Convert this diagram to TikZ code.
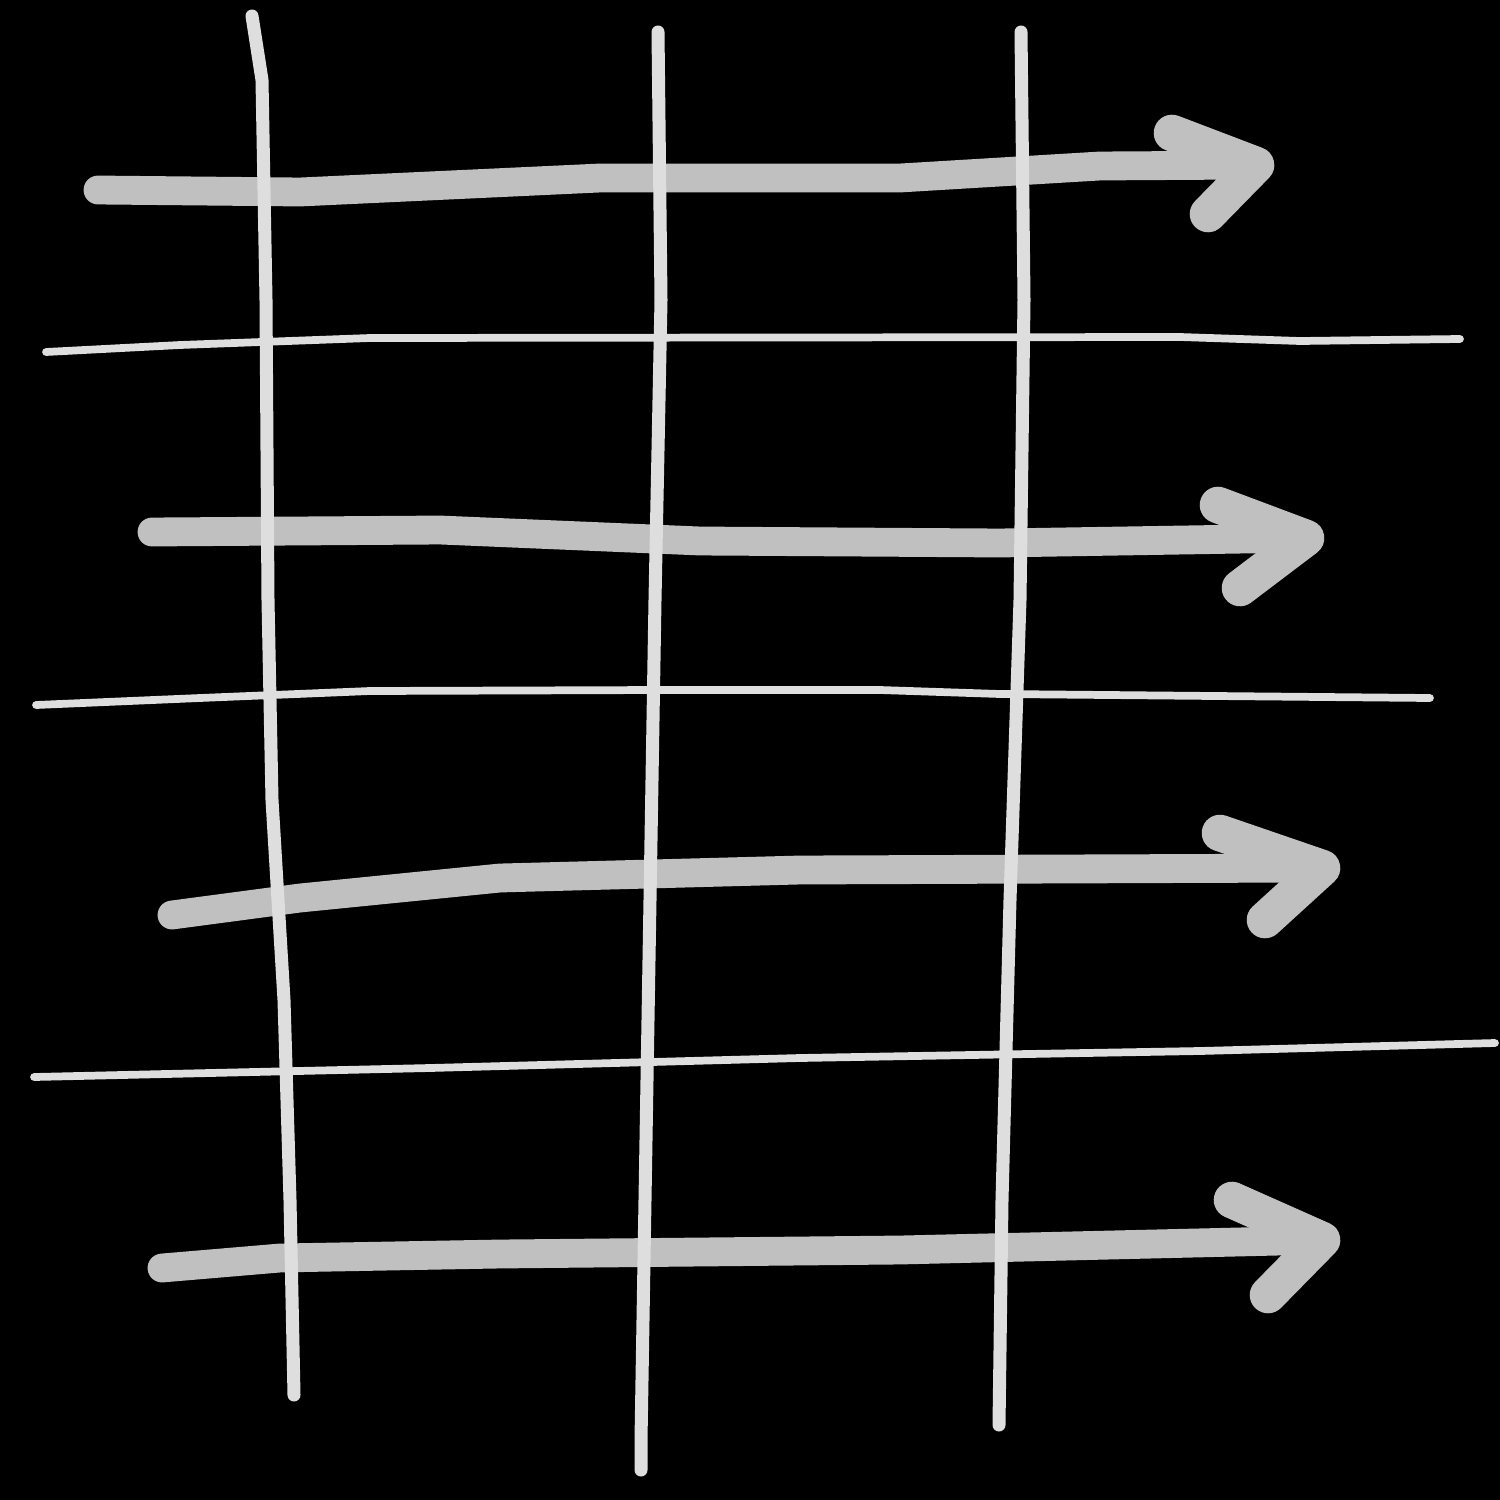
\documentclass[tikz,border=0pt]{standalone}
\usetikzlibrary{positioning}
\definecolor{chalk}{HTML}{DEDEDE}
\definecolor{shade}{HTML}{C0C0C0}
\tikzset{
  rail/.style={draw=chalk, line width=3.7pt, line cap=round, line join=round},
  rung/.style={draw=chalk, line width=2.2pt, line cap=round, line join=round},
  sweep/.style={draw=shade, line width=8.2pt, line cap=round, line join=round},
  barb/.style={draw=shade, line width=10.4pt, line cap=round, line join=round}
}
\begin{document}
\begin{tikzpicture}[x=0.01cm, y=-0.01cm]
\fill[black] (0, 0) rectangle (1500, 1500);

% arrows
\coordinate (a1s) at (98, 190);   \coordinate (a1t) at (1256, 165);
\coordinate (a2s) at (152, 532);  \coordinate (a2t) at (1306, 538);
\coordinate (a3s) at (172, 915);  \coordinate (a3t) at (1322, 868);
\coordinate (a4s) at (162, 1268); \coordinate (a4t) at (1322, 1240);

\draw[sweep] (a1s) -- (300, 192) -- (600, 178) -- (900, 178) -- (1100, 166) -- (a1t);
\draw[barb] (1172, 133) -- (a1t) -- (1208, 214);
\draw[sweep] (a2s) -- (440, 530) -- (700, 541) -- (1000, 543) -- (a2t);
\draw[barb] (1218, 505) -- (a2t) -- (1240, 588);
\draw[sweep] (a3s) -- (300, 898) -- (500, 878) -- (800, 870) -- (a3t);
\draw[barb] (1220, 833) -- (a3t) -- (1265, 920);
\draw[sweep] (a4s) -- (280, 1258) -- (500, 1254) -- (900, 1250) -- (a4t);
\draw[barb] (1232, 1200) -- (a4t) -- (1268, 1295);

% horizontal lines
\coordinate (h1w) at (46, 352);  \coordinate (h1e) at (1460, 339);
\coordinate (h2w) at (36, 705);  \coordinate (h2e) at (1430, 698);
\coordinate (h3w) at (34, 1077); \coordinate (h3e) at (1495, 1043);

\draw[rung] (h1w) -- (180, 345) -- (370, 338) -- (1180, 337) -- (1300, 341) -- (h1e);
\draw[rung] (h2w) -- (200, 698) -- (370, 691) -- (660, 690) -- (880, 690) -- (1000, 694) -- (h2e);
\draw[rung] (h3w) -- (430, 1068) -- (800, 1058) -- (1200, 1051) -- (h3e);

% vertical lines
\coordinate (v1n) at (252, 16);  \coordinate (v1s) at (294, 1395);
\coordinate (v2n) at (658, 32);  \coordinate (v2s) at (641, 1470);
\coordinate (v3n) at (1021, 32); \coordinate (v3s) at (999, 1425);

\draw[rail] (v1n) -- (262, 80) -- (266, 300) -- (268, 600) -- (272, 800) -- (284, 1000) -- (290, 1200) -- (v1s);
\draw[rail] (v2n) -- (661, 300) -- (655, 600) -- (650, 900) -- (645, 1200) -- (641, 1440) -- (v2s);
\draw[rail] (v3n) -- (1024, 300) -- (1020, 600) -- (1010, 900) -- (1002, 1200) -- (v3s);

\end{tikzpicture}
\end{document}
